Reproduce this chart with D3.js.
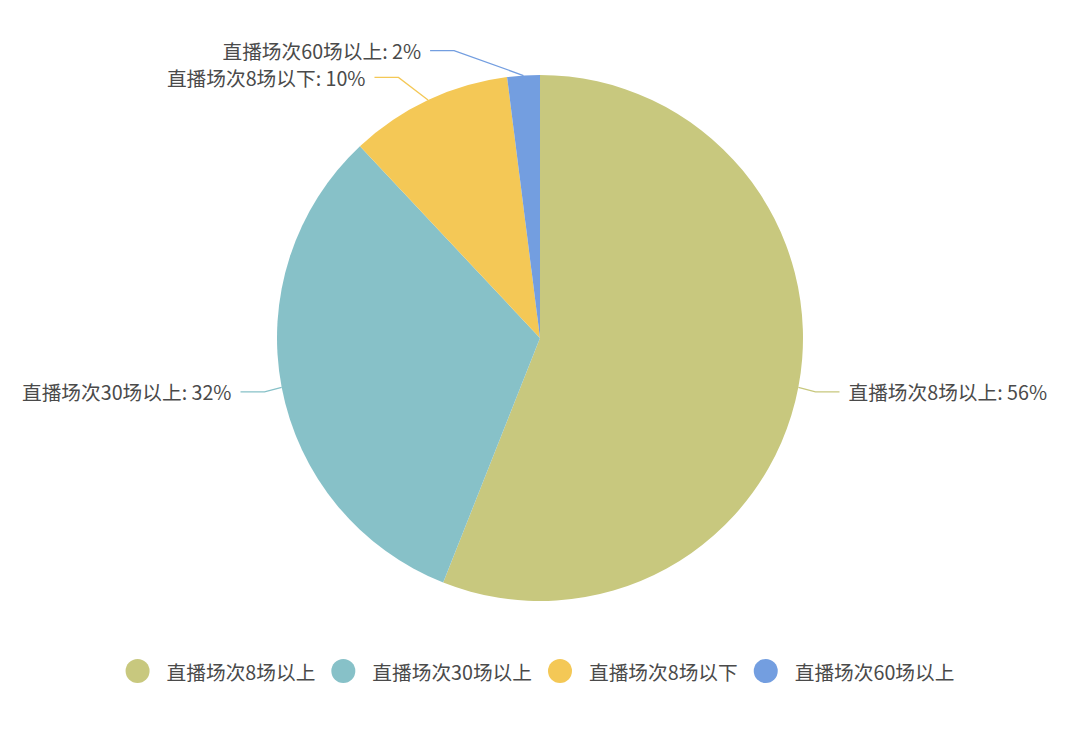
<!DOCTYPE html>
<html lang="zh">
<head>
  <meta charset="UTF-8">
  <title>直播场次分布</title>
  <script src="https://d3js.org/d3.v7.min.js"></script>
  <style>
    body { margin: 0; background: #fff; }
    text { font-family: "Noto Sans CJK SC", "Noto Sans", sans-serif; fill: #4a4a4a; }
  </style>
</head>
<body>
  <div id="chart"></div>

  <script>
    // data
    const categories = ["直播场次8场以上", "直播场次30场以上", "直播场次8场以下", "直播场次60场以上"];
    const values = [56, 32, 10, 2];
    const colors = ["#c8c87e", "#87c1c8", "#f4c856", "#739ee0"];

    const width = 1080, height = 743;
    const cx = 540, cy = 338, radius = 263;
    const fontSize = 19.7;

    const svg = d3.select("#chart").append("svg")
      .attr("width", width)
      .attr("height", height);

    const g = svg.append("g")
      .attr("transform", `translate(${cx},${cy})`);

    const pie = d3.pie().sort(null).value((d) => d);
    const arcs = pie(values);

    const arc = d3.arc().innerRadius(0).outerRadius(radius);

    g.selectAll("path.slice")
      .data(arcs)
      .enter()
      .append("path")
      .attr("class", "slice")
      .attr("d", arc)
      .attr("fill", (d, i) => colors[i]);

    // label lines: first leg out of the slice, then a short horizontal leg
    const legA = radius + 17;   // horizontal reach of the bend
    const legB = radius + 25;   // vertical reach of the bend
    const ellipseB = 302;
    const len2 = 24;

    function labelPoints(d) {
      const mid = (d.startAngle + d.endAngle) / 2;
      const dir = Math.sin(mid) >= 0 ? 1 : -1;
      const p0 = [Math.sin(mid) * radius, -Math.cos(mid) * radius];
      const by = -Math.cos(mid) * legB;
      const bx = dir * Math.sqrt(Math.max(0, 1 - (by * by) / (ellipseB * ellipseB))) * legA;
      return { dir, pts: [p0, [bx, by], [bx + dir * len2, by]] };
    }

    const labels = g.selectAll("g.label")
      .data(arcs)
      .enter()
      .append("g")
      .attr("class", "label");

    labels.append("polyline")
      .attr("points", (d) => labelPoints(d).pts.map((p) => p.join(",")).join(" "))
      .attr("fill", "none")
      .attr("stroke", (d, i) => colors[i])
      .attr("stroke-width", 1.3);

    labels.append("text")
      .attr("x", (d) => {
        const l = labelPoints(d);
        return l.pts[2][0] + l.dir * 9;
      })
      .attr("y", (d) => labelPoints(d).pts[2][1])
      .attr("dominant-baseline", "central")
      .attr("text-anchor", (d) => labelPoints(d).dir > 0 ? "start" : "end")
      .attr("font-size", fontSize)
      .text((d, i) => `${categories[i]}: ${values[i]}%`);

    // legend, centred under the pie
    const legendY = 671;
    const iconR = 12;
    const iconGap = 17;
    const itemGap = 16;

    const legend = svg.append("g");
    const items = legend.selectAll("g.item")
      .data(categories)
      .enter()
      .append("g")
      .attr("class", "item");

    items.append("circle")
      .attr("r", iconR)
      .attr("cx", iconR)
      .attr("cy", 0)
      .attr("fill", (d, i) => colors[i]);

    items.append("text")
      .attr("x", iconR * 2 + iconGap)
      .attr("y", 0)
      .attr("dominant-baseline", "central")
      .attr("font-size", fontSize)
      .text((d) => d);

    let offset = 0;
    const widths = [];
    items.each(function () {
      const w = iconR * 2 + iconGap + this.querySelector("text").getComputedTextLength();
      widths.push(w);
    });
    const total = d3.sum(widths) + itemGap * (widths.length - 1);
    items.attr("transform", (d, i) => {
      const x = offset;
      offset += widths[i] + itemGap;
      return `translate(${x},0)`;
    });
    legend.attr("transform", `translate(${(width - total) / 2},${legendY})`);
  </script>
</body>
</html>
